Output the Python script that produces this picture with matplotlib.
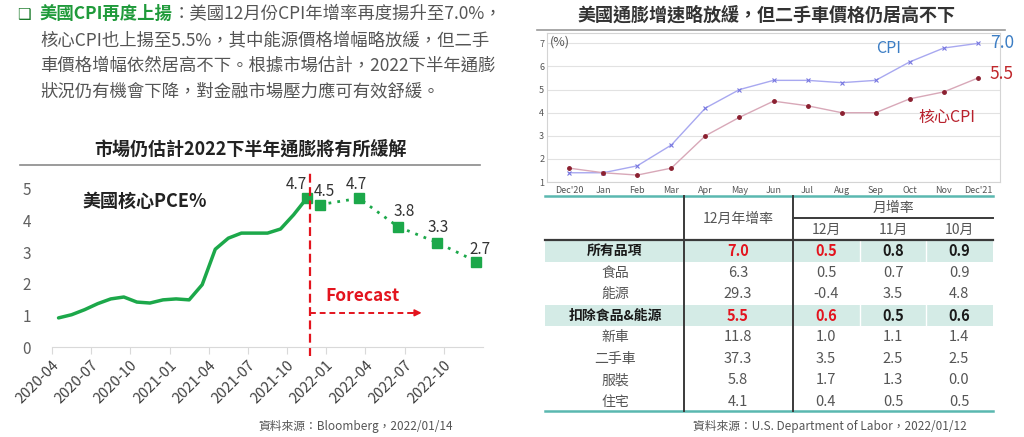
import matplotlib
matplotlib.use('Agg')
import matplotlib.pyplot as plt
from matplotlib.patches import Rectangle

plt.rcParams['font.family'] = ['Noto Sans CJK TC', 'DejaVu Sans']

# ---------------- data ----------------
pce_months = ['2020-04', '2020-05', '2020-06', '2020-07', '2020-08', '2020-09',
              '2020-10', '2020-11', '2020-12', '2021-01', '2021-02', '2021-03',
              '2021-04', '2021-05', '2021-06', '2021-07', '2021-08', '2021-09',
              '2021-10', '2021-11']
pce_actual = [0.92, 1.02, 1.18, 1.37, 1.52, 1.58, 1.42, 1.39, 1.49, 1.52, 1.49, 1.97,
              3.09, 3.44, 3.60, 3.60, 3.60, 3.73, 4.18, 4.70]
fc_months = ['2021-12', '2022-03', '2022-06', '2022-09', '2022-12']
fc_values = [4.5, 4.7, 3.8, 3.3, 2.7]
pce_ticks = ['2020-04', '2020-07', '2020-10', '2021-01', '2021-04', '2021-07',
             '2021-10', '2022-01', '2022-04', '2022-07', '2022-10']

cpi_months = ['Dec\'20', 'Jan', 'Feb', 'Mar', 'Apr', 'May', 'Jun', 'Jul', 'Aug',
              'Sep', 'Oct', 'Nov', 'Dec\'21']
cpi_values = [1.4, 1.4, 1.7, 2.6, 4.2, 5.0, 5.4, 5.4, 5.3, 5.4, 6.2, 6.8, 7.0]
core_values = [1.6, 1.4, 1.3, 1.6, 3.0, 3.8, 4.5, 4.3, 4.0, 4.0, 4.6, 4.9, 5.5]

row_labels = ['所有品項', '食品', '能源', '扣除食品&能源', '新車', '二手車', '服裝', '住宅']
yoy_dec = [7.0, 6.3, 29.3, 5.5, 11.8, 37.3, 5.8, 4.1]
mom_dec = [0.5, 0.5, -0.4, 0.6, 1.0, 3.5, 1.7, 0.4]
mom_nov = [0.8, 0.7, 3.5, 0.5, 1.1, 2.5, 1.3, 0.5]
mom_oct = [0.9, 0.9, 4.8, 0.6, 1.4, 2.5, 0.0, 0.5]
bold_rows = [0, 3]
red_cols = [0, 1]  # yoy and Dec mom are red in bold rows

# ---------------- figure ----------------
W, H = 1024, 437
fig = plt.figure(figsize=(W / 100, H / 100), dpi=100)


def box(x0, y0, x1, y1):
    return [x0 / W, 1 - y1 / H, (x1 - x0) / W, (y1 - y0) / H]


ov = fig.add_axes([0, 0, 1, 1])
ov.set_xlim(0, W)
ov.set_ylim(H, 0)
ov.axis('off')

GREEN_T = '#1f9a3a'
GRAY_T = '#555555'
RED = '#e3141e'

# ---- top-left text block ----
ov.text(17, 14, '\u2751', family=['DejaVu Sans'], color='#1a7a2a', fontsize=11, va='center')
h = ov.text(40, 14, '美國CPI再度上揚', color=GREEN_T, weight='bold', fontsize=12.5, va='center')
ov.annotate('：美國12月份CPI年增率再度揚升至7.0%，', xy=(1, 0.5), xycoords=h,
            va='center', ha='left', fontsize=12.5, color=GRAY_T)
body = ['核心CPI也上揚至5.5%，其中能源價格增幅略放緩，但二手',
        '車價格增幅依然居高不下。根據市場估計，2022下半年通膨',
        '狀況仍有機會下降，對金融市場壓力應可有效舒緩。']
for i, line in enumerate(body):
    ov.text(40, 40.5 + i * 25.5, line, fontsize=12.5, color=GRAY_T, va='center')

# ---- left chart title ----
ov.text(250, 149, '市場仍估計2022下半年通膨將有所緩解', fontsize=13, weight='bold',
        color='#222222', ha='center', va='center')
ov.plot([20, 480], [165, 165], color='#8a8a8a', lw=1.2)
ov.text(453, 426, '資料來源：Bloomberg，2022/01/14', fontsize=8.5, color=GRAY_T,
        ha='right', va='center')

# ---- left chart ----
def midx(m):
    y, mo = m.split('-')
    return (int(y) - 2020) * 12 + int(mo) - 4


axl = fig.add_axes(box(52, 173, 483, 347))
axl.set_xlim(0, 33)
axl.set_ylim(0, 5.5)
GREEN = '#1ca84a'
xa = [midx(m) + 0.5 for m in pce_months]
xf = [midx(m) + 0.5 for m in fc_months]
axl.plot(xa, pce_actual, color=GREEN, lw=2.5, solid_capstyle='round')
axl.plot(xa[-1:], pce_actual[-1:], 's', color=GREEN, ms=7)
axl.plot(xf, fc_values, ls=(0, (1, 2.2)), color=GREEN, lw=2, marker='s', ms=7)

axl.set_xticks([midx(m) for m in pce_ticks])
axl.set_xticklabels(pce_ticks, rotation=45, ha='right', va='top', rotation_mode='anchor',
                    fontsize=10.5, color='#404040')
axl.set_yticks(range(6))
axl.tick_params(axis='y', length=0, pad=15, labelsize=11, labelcolor='#606060')
axl.tick_params(axis='x', length=5, color='#d9d9d9', pad=3)
for s in ['top', 'right', 'left']:
    axl.spines[s].set_visible(False)
axl.spines['bottom'].set_color('#d9d9d9')

label_offsets = [(-10, 14), (5, 13), (-3, 14), (6, 15), (1, 15), (4, 12)]
lab_x = [xa[-1]] + xf
lab_y = [pce_actual[-1]] + fc_values
for (x, y), off in zip(zip(lab_x, lab_y), label_offsets):
    axl.annotate(f'{y:.1f}', (x, y), xytext=off, textcoords='offset pixels',
                 ha='center', va='center', fontsize=11, color='#333333')

split_x = 19.75
axl.plot([split_x, split_x], [-0.3, 5.6], color=RED, ls=(0, (4, 2)), lw=1.6, clip_on=False)
axl.plot([split_x, 27.8], [1.08, 1.08], color=RED, ls=(0, (3, 2)), lw=1.4)
axl.annotate('', xy=(28.3, 1.08), xytext=(27.5, 1.08),
             arrowprops=dict(arrowstyle='-|>', color=RED, lw=1.2, mutation_scale=10,
                             shrinkA=0, shrinkB=0))
axl.text(20.9, 1.61, 'Forecast', color=RED, fontsize=12.5, weight='bold', va='center')
axl.text(2.37, 4.59, '美國核心PCE%', color='#222222', fontsize=13, weight='bold', va='center')

# ---- right title ----
ov.text(766, 15, '美國通膨增速略放緩，但二手車價格仍居高不下', fontsize=13, weight='bold',
        color='#333333', ha='center', va='center')
ov.plot([537, 1005], [30, 30], color='#9a9a9a', lw=1.2)

# ---- right chart ----
axr = fig.add_axes(box(547, 33, 1000, 182))
axr.set_xlim(-0.65, 12.65)
axr.set_ylim(1, 7.45)
xr = list(range(len(cpi_months)))
axr.plot(xr, cpi_values, color='#a8a8f0', lw=1, marker='x', ms=3.5, mec='#7878e0', mew=0.8)
axr.plot(xr, core_values, color='#d8a8b8', lw=1, marker='o', ms=2.5, mfc='#8b2030',
         mec='#8b2030')
axr.set_xticks(xr)
axr.set_xticklabels(cpi_months, fontsize=6.5, color='#555555')
axr.set_yticks(range(1, 8))
axr.tick_params(axis='both', length=0, labelsize=6.5, labelcolor='#555555')
axr.tick_params(axis='y', pad=2)
axr.tick_params(axis='x', pad=3)
axr.grid(axis='y', color='#e2e2e2', lw=0.8)
for s in axr.spines.values():
    s.set_color('#d4d4d4')
    s.set_linewidth(0.8)
axr.text(0.006, 0.985, '(%)', transform=axr.transAxes, fontsize=9, color='#555555',
         va='top', ha='left')
axr.text(9.39, 6.78, 'CPI', color='#3b7dc4', fontsize=11.5, ha='center', va='center')
axr.text(11.09, 3.8, '核心CPI', color='#b8202c', fontsize=11.5, ha='center', va='center')
axr.annotate(f'{cpi_values[-1]:.1f}', (xr[-1], cpi_values[-1]), xytext=(24, 0),
             textcoords='offset pixels', color='#3b7dc4', fontsize=12.5, ha='center',
             va='center', annotation_clip=False)
axr.annotate(f'{core_values[-1]:.1f}', (xr[-1], core_values[-1]), xytext=(24, 4),
             textcoords='offset pixels', color='#c0282c', fontsize=12.5, ha='center',
             va='center', annotation_clip=False)

# ---- table ----
TL, TR = 545, 993
V1, V2 = 684, 793
col_x = [738, 826, 893, 959]
label_x = 615
row_y0, row_h = 251, 21.55
TEAL = '#5ab8b0'
BAND = '#d4ebe6'
DARK = '#3a3a3a'

for r in bold_rows:
    yc = row_y0 + r * row_h
    ov.add_patch(Rectangle((TL, yc - row_h / 2), TR - TL, row_h, color=BAND, lw=0, zorder=0))
    for xs in [(col_x[1] + col_x[2]) / 2, (col_x[2] + col_x[3]) / 2]:
        ov.plot([xs, xs], [yc - row_h / 2, yc + row_h / 2], color='white', lw=1, zorder=1)

ov.plot([TL, TR], [196, 196], color=TEAL, lw=1.8)
ov.plot([TL, TR], [411, 411], color=TEAL, lw=1.8)
ov.plot([TL, TR], [240, 240], color=DARK, lw=1.6)
ov.plot([V2, TR], [218, 218], color=DARK, lw=1.4)
ov.plot([V1, V1], [196, 411], color=DARK, lw=1.4)
ov.plot([V2, V2], [196, 411], color=DARK, lw=1.4)

ov.text(col_x[0], 219, '12月年增率', fontsize=10, color=GRAY_T, ha='center', va='center')
ov.text((V2 + TR) / 2, 207.5, '月增率', fontsize=10, color=GRAY_T, ha='center', va='center')
for cx, t in zip(col_x[1:], ['12月', '11月', '10月']):
    ov.text(cx, 230, t, fontsize=10, color=GRAY_T, ha='center', va='center')

cols = [yoy_dec, mom_dec, mom_nov, mom_oct]
for r, lab in enumerate(row_labels):
    yc = row_y0 + r * row_h
    bold = r in bold_rows
    ov.text(label_x, yc, lab, fontsize=10, ha='center', va='center',
            color='#1a1a1a' if bold else GRAY_T, weight='bold' if bold else 'normal')
    for c, vals in enumerate(cols):
        if bold:
            color = RED if c in red_cols else '#1a1a1a'
        else:
            color = GRAY_T
        ov.text(col_x[c], yc, f'{vals[r]:.1f}', fontsize=10.5, ha='center', va='center',
                color=color, weight='bold' if bold else 'normal')

ov.text(967, 426, '資料來源：U.S. Department of Labor，2022/01/12', fontsize=8.5,
        color=GRAY_T, ha='right', va='center')

fig.savefig('out.png', dpi=100)
